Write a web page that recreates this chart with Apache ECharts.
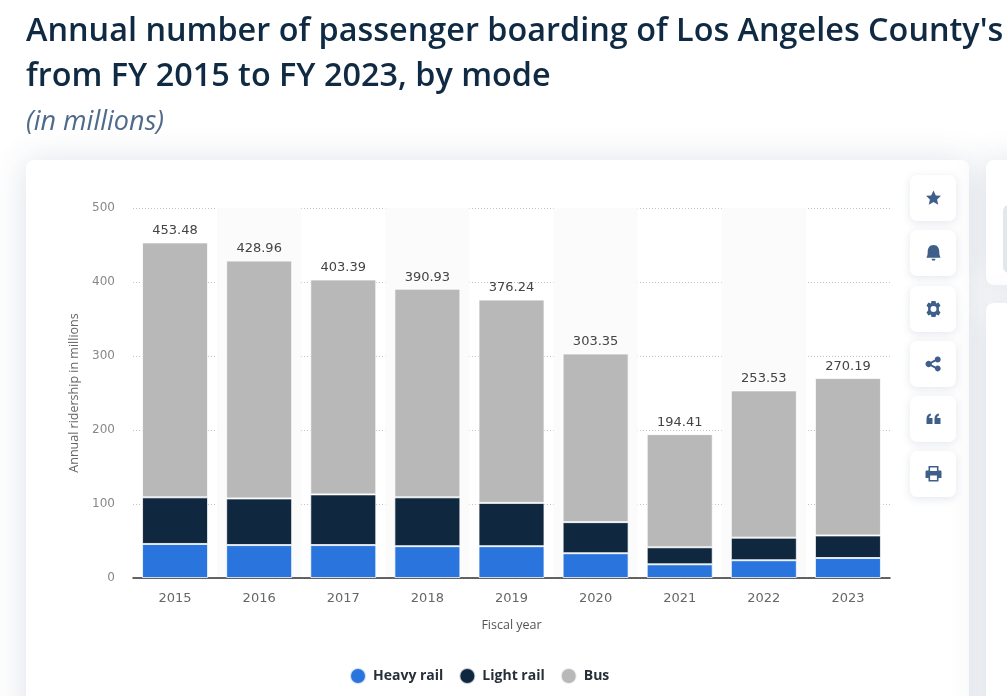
<!DOCTYPE html>
<html><head><meta charset="utf-8">
<style>html,body{margin:0;padding:0;background:#fff;overflow:hidden}#c{width:1007px;height:696px;position:absolute;left:0;top:0}#ov{position:absolute;left:0;top:0;pointer-events:none}</style>
<script src="https://cdn.jsdelivr.net/npm/echarts@6/dist/echarts.min.js"></script>
</head><body><div id="c"></div><svg id="ov" width="1007" height="696" xmlns="http://www.w3.org/2000/svg"></svg>
<script>
const years = ['2015','2016','2017','2018','2019','2020','2021','2022','2023'];
const heavyRail = [46, 44.5, 44.5, 43, 43, 33.5, 18.5, 24, 27];
const lightRail = [63, 63, 68.5, 66, 58.5, 42, 23, 30.5, 30.5];
const bus = [344.48, 321.46, 290.39, 281.93, 274.74, 227.85, 152.91, 199.03, 212.69];
const totals = ['453.48','428.96','403.39','390.93','376.24','303.35','194.41','253.53','270.19'];

const ICON = '#3f5f8a';
const btnYs = [175, 230, 286, 341, 396, 451];
const icons = [
 'M0 -7.5 L2.3 -2.6 L7.5 -2.2 L3.6 1.4 L4.7 6.8 L0 4.1 L-4.7 6.8 L-3.6 1.4 L-7.5 -2.2 L-2.3 -2.6 Z',
 'M0 -8 C4.2 -8 5.8 -4.6 5.8 -1 C5.8 2 6.4 3 7 4.8 L-7 4.8 C-6.4 3 -5.8 2 -5.8 -1 C-5.8 -4.6 -4.2 -8 0 -8 Z M-2 5.8 L2 5.8 L1.4 7.6 L-1.4 7.6 Z',
 'M-2 -8 L2 -8 L2.6 -5.6 L5 -6.6 L7 -3.4 L5.4 -1.6 L5.4 1.6 L7 3.4 L5 6.6 L2.6 5.6 L2 8 L-2 8 L-2.6 5.6 L-5 6.6 L-7 3.4 L-5.4 1.6 L-5.4 -1.6 L-7 -3.4 L-5 -6.6 L-2.6 -5.6 Z M0 -3 A3 3 0 1 0 0 3 A3 3 0 1 0 0 -3 Z',
 'M4.2 -7.4 A2.9 2.9 0 1 1 2.1 -2.6 L-1.6 -0.8 L-1.6 0.8 L2.1 2.6 A2.9 2.9 0 1 1 1.4 4.4 L-2.7 2.3 A3.1 3.1 0 1 1 -2.7 -2.3 L1.4 -4.4 A2.9 2.9 0 0 1 4.2 -7.4 Z',
 'M-7 0 C-7 -3 -5.5 -5 -2.6 -5.4 L-2.6 -3.4 C-3.8 -3 -4.4 -2.2 -4.4 -1 L-1 -1 L-1 5 L-7 5 Z M1 0 C1 -3 2.5 -5 5.4 -5.4 L5.4 -3.4 C4.2 -3 3.6 -2.2 3.6 -1 L7 -1 L7 5 L1 5 Z',
 'M-5 -8 L5 -8 L5 -3.6 L7 -3.6 Q8 -3.6 8 -2.2 L8 4 L5 4 L5 7.5 L-5 7.5 L-5 4 L-8 4 L-8 -2.2 Q-8 -3.6 -7 -3.6 L-5 -3.6 Z M-3.4 -6.4 L-3.4 -3 L3.4 -3 L3.4 -6.4 Z M-3.4 1.6 L-3.4 6 L3.4 6 L3.4 1.6 Z'
];
document.getElementById('ov').innerHTML = icons.map((d,i)=>
  `<path transform="translate(933.5 ${btnYs[i]+23})" d="${d}" fill="${ICON}" fill-rule="evenodd"/>`).join('');

const cardShadow = {shadowBlur: 34, shadowColor: 'rgba(50,70,110,0.17)', shadowOffsetX: 0, shadowOffsetY: 2};
const chrome = [
 {type:'rect', z:-10, shape:{x:26,y:160,width:943,height:600,r:8}, style:{fill:'#fff', ...cardShadow}, silent:true},
 {type:'rect', z:-10, shape:{x:986,y:160,width:60,height:125,r:8}, style:{fill:'#fff', ...cardShadow}, silent:true},
 {type:'rect', z:-9, shape:{x:1003,y:205,width:20,height:68,r:6}, style:{fill:'#e4e7ea'}, silent:true},
 {type:'rect', z:-10, shape:{x:986,y:303,width:60,height:500,r:8}, style:{fill:'#fff', ...cardShadow}, silent:true}
];
btnYs.forEach((y)=>{
  chrome.push({type:'rect', z:5, shape:{x:910,y:y,width:46,height:46,r:7}, style:{fill:'#fff', shadowBlur:8, shadowColor:'rgba(60,80,120,0.14)', shadowOffsetY:2}, silent:true});
});
chrome.push({type:'text', z:6, left:26, top:16, style:{text:"Annual number of passenger boarding of Los Angeles County's", font:'600 32.4px "Open Sans"', fill:'#0f2a42'}, silent:true});
chrome.push({type:'text', z:6, left:26, top:61, style:{text:"from FY 2015 to FY 2023, by mode", font:'600 32.4px "Open Sans"', fill:'#0f2a42'}, silent:true});
chrome.push({type:'text', z:6, left:26, top:109, style:{text:"(in millions)", font:'italic 400 27px "Open Sans"', fill:'#4f6a8a'}, silent:true});

const chart = echarts.init(document.getElementById('c'), null, {renderer:'canvas'});
const seg = {type:'bar', stack:'t', barWidth:66, itemStyle:{borderColor:'rgba(255,255,255,0.75)', borderWidth:1}};
chart.setOption({
  animation:false,
  backgroundColor:'#fff',
  textStyle:{fontFamily:'"DejaVu Sans"'},
  grid:{left:133, right:117, top:208, bottom:118, containLabel:false},
  legend:{
    data:['Heavy rail','Light rail','Bus'], icon:'circle', itemWidth:16, itemHeight:16, itemGap:15,
    left:344, top:662,
    textStyle:{fontFamily:'"Open Sans"', fontSize:14, fontWeight:700, color:'#27303a', padding:[0,0,0,2]}
  },
  xAxis:{
    type:'category', data:years,
    name:'Fiscal year', nameLocation:'middle', nameGap:41,
    nameTextStyle:{fontSize:12.5, color:'#555', fontFamily:'"Open Sans"'},
    axisLine:{lineStyle:{color:'#333', width:1.5}}, axisTick:{show:false},
    axisLabel:{fontSize:13, color:'#666', margin:14, fontFamily:'"DejaVu Sans"'},
    splitArea:{show:true, areaStyle:{color:['rgba(255,255,255,0)','#fbfbfb']}}
  },
  yAxis:{
    type:'value', min:0, max:500, interval:100,
    name:'Annual ridership in millions', nameLocation:'middle', nameGap:49,
    nameTextStyle:{fontSize:12.5, color:'#666', fontFamily:'"Open Sans"'},
    axisLine:{show:false}, axisTick:{show:false},
    axisLabel:{fontSize:12, color:'#888', margin:18, padding:[4,0,0,0], fontFamily:'"DejaVu Sans"'},
    splitLine:{lineStyle:{type:[1,2], color:'#c4c4c4', width:1}}
  },
  graphic:{elements:chrome},
  series:[
    {...seg, name:'Heavy rail', data:heavyRail, itemStyle:{...seg.itemStyle, color:'#2a75dd'}},
    {...seg, name:'Light rail', data:lightRail, itemStyle:{...seg.itemStyle, color:'#10283f'}},
    {...seg, name:'Bus', data:bus, itemStyle:{...seg.itemStyle, color:'#b8b8b8'},
      label:{show:true, position:'top', distance:5, fontFamily:'"DejaVu Sans"', fontSize:13, color:'#444',
        formatter:p=>totals[p.dataIndex]}}
  ]
});
</script></body></html>
